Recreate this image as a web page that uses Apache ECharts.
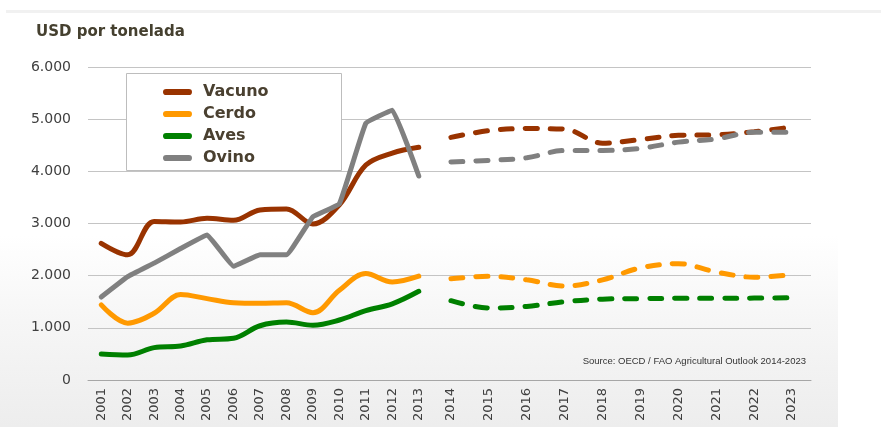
<!DOCTYPE html>
<html>
<head>
<meta charset="utf-8">
<script src="https://cdn.jsdelivr.net/npm/echarts@6/dist/echarts.min.js"></script>
<style>
  html, body { margin: 0; padding: 0; background: #fff; }
  #chart { width: 881px; height: 427px; }
</style>
</head>
<body>
<div id="chart"></div>
<script>
// categories
const yearsHist = ['2001','2002','2003','2004','2005','2006','2007','2008','2009','2010','2011','2012','2013']
const yearsProj = ['2014','2015','2016','2017','2018','2019','2020','2021','2022','2023']

// historical values (USD per tonne)
const vacunoHist = [2620, 2400, 3040, 3030, 3100, 3060, 3260, 3280, 2990, 3360, 4120, 4350, 4460]
const cerdoHist  = [1440, 1090, 1280, 1640, 1560, 1480, 1470, 1480, 1290, 1720, 2040, 1880, 1990]
const avesHist   = [500, 480, 620, 650, 770, 800, 1040, 1110, 1050, 1150, 1330, 1460, 1700]
const ovinoHist  = [1590, 1980, 2240, 2520, 2780, 2180, 2400, 2400, 3130, 3380, 4920, 5170, 3910]

// projections
const vacunoProj = [4650, 4780, 4820, 4810, 4540, 4610, 4690, 4700, 4760, 4850]
const cerdoProj  = [1940, 1990, 1920, 1800, 1920, 2150, 2230, 2070, 1970, 2020]
const avesProj   = [1520, 1380, 1410, 1500, 1550, 1560, 1565, 1565, 1570, 1575]
const ovinoProj  = [4180, 4210, 4260, 4400, 4400, 4440, 4560, 4620, 4750, 4750]

const names = ['Vacuno', 'Cerdo', 'Aves', 'Ovino']
const colors = ['#993300', '#ff9900', '#008000', '#808080']
// ovino history is drawn almost straight in the original
const smoothHist = [0.35, 0.35, 0.35, 0.08]

const axisFont = 'DejaVu Sans'
const labelColor = '#404040'

function yFmt(v) {
  return v === 0 ? '0' : (v / 1000) + '.000'
}

function solid(name, data, i) {
  return {
    name: name, type: 'line', xAxisIndex: 0, yAxisIndex: 0,
    data: data, smooth: smoothHist[i], symbol: 'none',
    lineStyle: { color: colors[i], width: 5, cap: 'round', join: 'round' },
    itemStyle: { color: colors[i] }
  }
}
function dashed(name, data, i) {
  return {
    name: name, type: 'line', xAxisIndex: 1, yAxisIndex: 1,
    data: data, smooth: 0.35, symbol: 'none',
    lineStyle: { color: colors[i], width: 5, type: [12, 13], cap: 'round' },
    itemStyle: { color: colors[i] }
  }
}

const yAxisBase = {
  type: 'value', min: 0, max: 6000, interval: 1000,
  axisLine: { show: false }, axisTick: { show: false },
  splitLine: { lineStyle: { color: '#c4c4c4', width: 1 } }
}
const xAxisBase = {
  type: 'category', boundaryGap: true,
  axisLine: { lineStyle: { color: '#a6a6a6', width: 1 } },
  axisTick: { length: 5, lineStyle: { color: '#a6a6a6' } },
  axisLabel: { rotate: 90, color: labelColor, fontFamily: axisFont, fontSize: 13, margin: 8, interval: 0 }
}

let myChart = echarts.init(document.getElementById('chart'))
let option = {
  animation: false,
  title: {
    text: 'USD por tonelada', left: 31, top: 20,
    textStyle: { fontFamily: 'DejaVu Sans', fontWeight: 'bold', fontSize: 15, color: '#45402f' }
  },
  grid: [
    { left: 88, top: 67, width: 344, bottom: 47 },
    { left: 432, top: 67, width: 379, bottom: 47 }
  ],
  xAxis: [
    Object.assign({}, xAxisBase, { gridIndex: 0, data: yearsHist }),
    Object.assign({}, xAxisBase, { gridIndex: 1, data: yearsProj })
  ],
  yAxis: [
    Object.assign({}, yAxisBase, {
      gridIndex: 0,
      axisLabel: { color: labelColor, fontFamily: axisFont, fontSize: 14, margin: 17, formatter: yFmt }
    }),
    Object.assign({}, yAxisBase, { gridIndex: 1, axisLabel: { show: false } })
  ],
  legend: {
    data: names, orient: 'vertical', left: 158, top: 78,
    icon: 'path://M3,0 H25 A3,3 0 0 1 25,6 H3 A3,3 0 0 1 3,0 Z',
    itemWidth: 29, itemHeight: 7, itemGap: 4,
    textStyle: { fontFamily: 'DejaVu Sans', fontWeight: 'bold', fontSize: 16, color: '#4a4030', lineHeight: 18, padding: [0, 0, 0, 6] },
    itemStyle: { borderWidth: 0 }
  },
  graphic: [
    {
      type: 'rect', z: -10, silent: true,
      shape: { x: 0, y: 235, width: 838, height: 192 },
      style: { fill: new echarts.graphic.LinearGradient(0, 0, 0, 1, [
        { offset: 0, color: '#ffffff' }, { offset: 0.45, color: '#f6f6f6' }, { offset: 1, color: '#ededed' }
      ]) }
    },
    {
      type: 'rect', z: -10, silent: true,
      shape: { x: 6, y: 10, width: 875, height: 3 },
      style: { fill: '#f1f1f1' }
    },
    {
      type: 'rect', z: 1, silent: true,
      shape: { x: 126.5, y: 73.5, width: 215, height: 97 },
      style: { fill: '#ffffff', stroke: '#bdbdbd', lineWidth: 1 }
    },
    {
      type: 'text', z: 5, right: 75, top: 356,
      style: { text: 'Source: OECD / FAO Agricultural Outlook 2014-2023', fill: '#333333',
               font: '9.5px "Liberation Sans"' }
    }
  ],
  series: [
    solid(names[0], vacunoHist, 0),
    solid(names[1], cerdoHist, 1),
    solid(names[2], avesHist, 2),
    solid(names[3], ovinoHist, 3),
    dashed(names[0], vacunoProj, 0),
    dashed(names[1], cerdoProj, 1),
    dashed(names[2], avesProj, 2),
    dashed(names[3], ovinoProj, 3)
  ]
}
myChart.setOption(option)
</script>
</body>
</html>
